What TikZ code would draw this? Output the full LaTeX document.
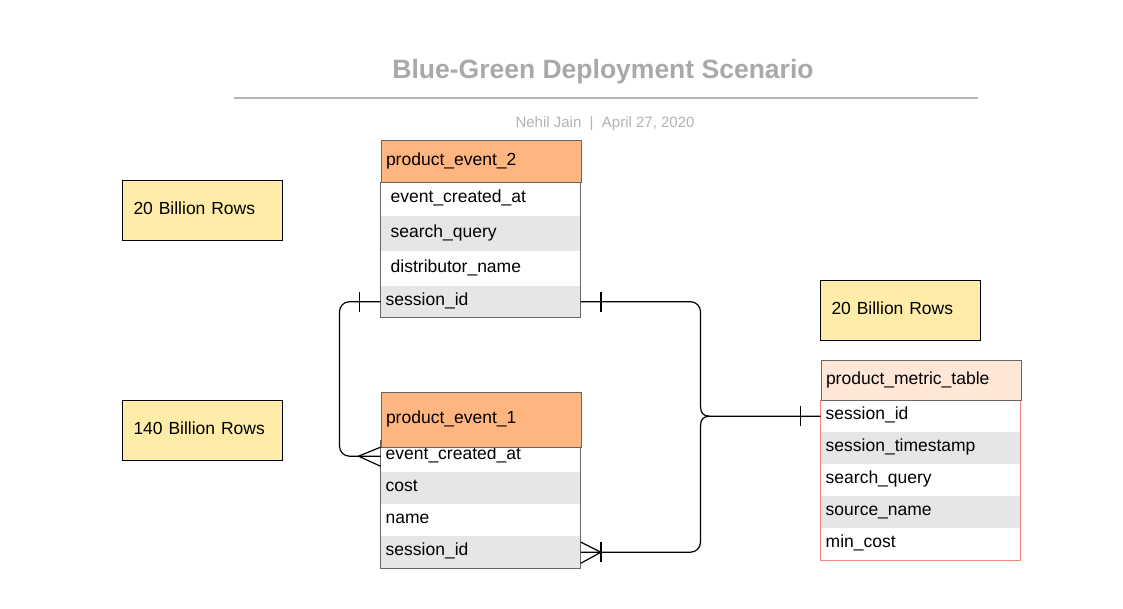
\documentclass[tikz,border=0pt]{standalone}
\usepackage{fontspec}
\setmainfont{Liberation Sans}
\usetikzlibrary{calc}

\definecolor{hdrorange}{HTML}{FFB580}
\definecolor{hdrpeach}{HTML}{FFE7D8}
\definecolor{band}{HTML}{E6E6E6}
\definecolor{tblline}{HTML}{666666}
\definecolor{pmline}{HTML}{F4887A}
\definecolor{notefill}{HTML}{FFECA8}
\definecolor{titlegray}{HTML}{A9A9A9}
\definecolor{subgray}{HTML}{B3B3B3}

\tikzset{
  fieldtext/.style={font=\fontsize{17.5}{20}\selectfont, text height=12pt, text depth=5pt},
  field/.style={fieldtext, fill=white,
    minimum width=200pt, text width=190pt, inner xsep=5pt, inner ysep=0pt,
    align=left, anchor=north west},
  wide/.style={text width=180pt, inner xsep=10pt},
  banded/.style={fill=band},
  header/.style={field, draw=tblline, line width=1pt, fill=hdrorange},
  frame/.style={draw=tblline, line width=1pt},
  note/.style={fieldtext, draw=black, line width=1pt, fill=notefill,
    minimum width=160pt, minimum height=60pt, text width=138pt, inner xsep=11pt,
    inner ysep=0pt, align=left, anchor=north west},
  conn/.style={draw=black, line width=1.2pt},
}

\begin{document}
\begin{tikzpicture}[x=1pt,y=-1pt]
  \useasboundingbox (0,0) rectangle (1123,608);
  \fill[white] (0,0) rectangle (1123,608);

  % title block
  \node[font=\bfseries\fontsize{26.5}{30}\selectfont, text=titlegray, anchor=base, inner sep=0pt]
    (title) at (603,78) {Blue-Green Deployment Scenario};
  \draw[subgray, line width=2pt] (234,98) -- (978,98);
  \node[font=\fontsize{15}{18}\selectfont, text=subgray, anchor=base, inner sep=0pt]
    (byline) at (605,127) {Nehil Jain\ \ |\ \ April 27, 2020};

  % row-count notes
  \node[note] (n1) at (122,180) {20 Billion Rows};
  \node[note] (n2) at (122,400) {140 Billion Rows};
  \node[note] (n3) at (820,280) {20 Billion Rows};

  % product_event_2
  \node[field, wide, minimum height=34pt] (p2a) at (380.5,182) {event\_created\_at};
  \node[field, wide, banded, minimum height=35pt] (p2b) at (380.5,216) {search\_query};
  \node[field, wide, minimum height=35pt] (p2c) at (380.5,251) {distributor\_name};
  \node[field, banded, minimum height=31pt] (p2sid) at (380.5,286) {session\_id};
  \draw[frame] (p2a.north west) rectangle (p2sid.south east);
  \node[header, minimum height=42pt] (p2h) at (380.5,140) {product\_event\_2};

  % product_event_1
  \node[field, minimum height=32pt] (p1eca) at (380.5,440) {event\_created\_at};
  \node[field, banded, minimum height=32pt] (p1b) at (380.5,472) {cost};
  \node[field, minimum height=32pt] (p1c) at (380.5,504) {name};
  \node[field, banded, minimum height=32pt] (p1sid) at (380.5,536) {session\_id};
  \draw[frame] (p1eca.north west) rectangle (p1sid.south east);
  \node[header, minimum height=55pt] (p1h) at (380.5,392) {product\_event\_1};

  % product_metric_table
  \node[field, minimum height=32pt] (pmsid) at (820.5,400) {session\_id};
  \node[field, banded, minimum height=32pt] (pmb) at (820.5,432) {session\_timestamp};
  \node[field, minimum height=32pt] (pmc) at (820.5,464) {search\_query};
  \node[field, banded, minimum height=32pt] (pmd) at (820.5,496) {source\_name};
  \node[field, minimum height=32pt] (pme) at (820.5,528) {min\_cost};
  \draw[frame, draw=pmline] (pmsid.north west) rectangle (pme.south east);
  \node[header, fill=hdrpeach, minimum height=40pt] (pmh) at (820.5,360) {product\_metric\_table};

  % left relation: product_event_2.session_id -> product_event_1
  \draw[conn, rounded corners=10pt] (p2sid.west) -- ++(-41,0) |- (p1eca.west);
  \draw[conn] ([xshift=-21pt]p2sid.west) ++(0,-10) -- ++(0,20);
  \draw[conn] ([xshift=-22pt]p1eca.west) -- ([yshift=9pt]p1eca.west);
  \draw[conn] ([xshift=-22pt]p1eca.west) -- ([yshift=-10pt]p1eca.west);

  % right relation with brace junction
  \path (pmsid.west) ++(-111,0) coordinate (tip);
  \coordinate (brtop) at ($(tip)+(-9,-10)$);
  \coordinate (brbot) at ($(tip)+(-9,10)$);
  \draw[conn, rounded corners=10pt] (p2sid.east) -| (brtop);
  \draw[conn] (brtop) .. controls ($(brtop)+(0,7)$) and ($(tip)+(-6,0)$) .. (tip) -- (pmsid.west);
  \draw[conn] (tip) .. controls ($(tip)+(-6,0)$) and ($(brbot)+(0,-7)$) .. (brbot);
  \draw[conn, rounded corners=10pt] (brbot) |- (p1sid.east);
  \draw[conn] ([xshift=20pt]p2sid.east) ++(0,-10) -- ++(0,20);
  \draw[conn] ([xshift=-20pt]pmsid.west) ++(0,-10) -- ++(0,20);
  \draw[conn] ([xshift=20pt]p1sid.east) ++(0,-10) -- ++(0,20);
  \draw[conn] ([xshift=20pt]p1sid.east) -- ([yshift=-11pt]p1sid.east);
  \draw[conn] ([xshift=20pt]p1sid.east) -- ([yshift=10pt]p1sid.east);
\end{tikzpicture}
\end{document}
